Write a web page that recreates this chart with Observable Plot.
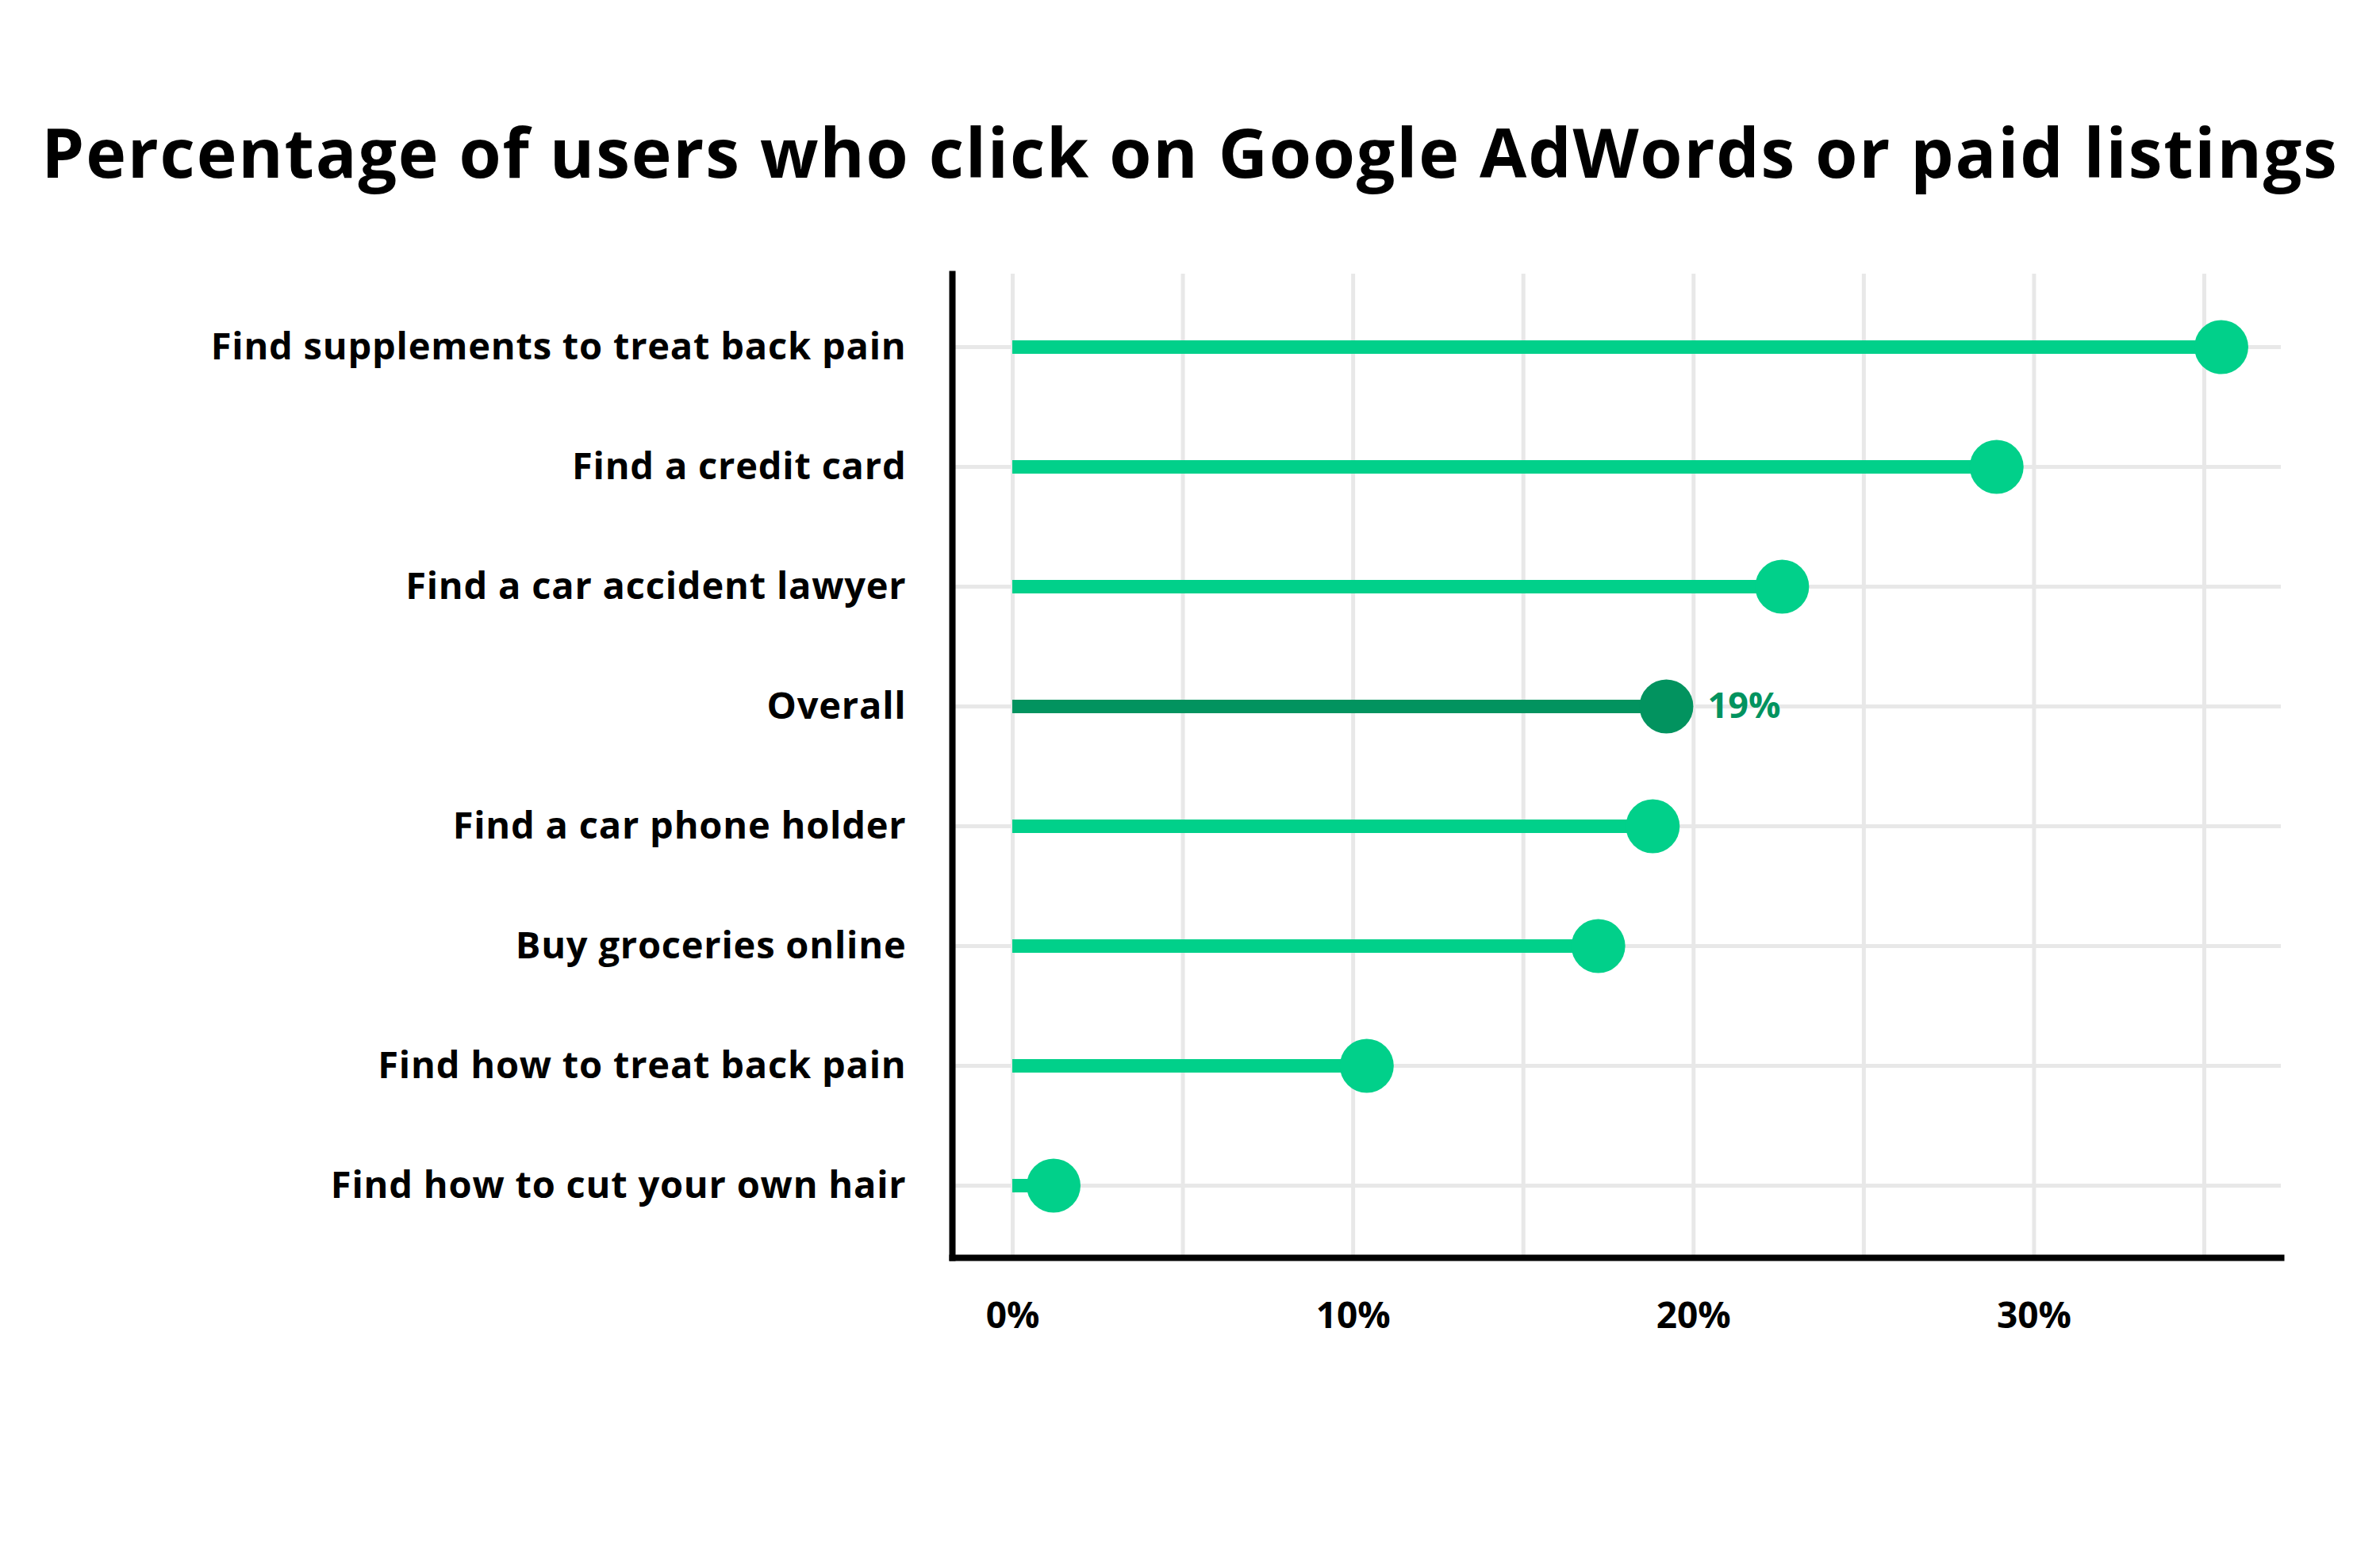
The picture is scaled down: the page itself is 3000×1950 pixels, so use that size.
<!DOCTYPE html>
<html>
<head>
<meta charset="utf-8">
<script src="https://cdn.jsdelivr.net/npm/d3@7"></script>
<script src="https://cdn.jsdelivr.net/npm/@observablehq/plot@0.6"></script>
<style>
  html, body { margin: 0; padding: 0; background: #ffffff; }
  body { width: 3000px; height: 1950px; overflow: hidden; font-family: "Open Sans", sans-serif; }
  #title {
    height: 300px; box-sizing: border-box; padding-top: 148px;
    font-size: 86px; line-height: 1; font-weight: 700; color: #000;
    letter-spacing: 1.8px;
    text-align: center; white-space: nowrap;
  }
  #chart svg { display: block; }
  #chart g[aria-label="y-axis tick label"] { letter-spacing: 0.8px; }
</style>
</head>
<body>
<div id="title">Percentage of users who click on Google AdWords or paid listings</div>
<div id="chart"></div>
<script>
const categories = [
  "Find supplements to treat back pain",
  "Find a credit card",
  "Find a car accident lawyer",
  "Overall",
  "Find a car phone holder",
  "Buy groceries online",
  "Find how to treat back pain",
  "Find how to cut your own hair"
];
const values = [35.5, 28.9, 22.6, 19.2, 18.8, 17.2, 10.4, 1.2];
const highlight = "Overall";
const highlightLabel = "19%";
const xTickValues = [0, 10, 20, 30];
const gridValues = [0, 5, 10, 15, 20, 25, 30, 35];

const green = "#01d08a";
const darkGreen = "#02935f";
const gridColor = "#e8e8e8";

const data = categories.map((c, i) => ({category: c, value: values[i]}));
const normal = data.filter(d => d.category !== highlight);
const hl = data.filter(d => d.category === highlight);

const chart = Plot.plot({
  width: 3000,
  height: 1650,
  marginLeft: 1200,
  marginRight: 125,
  marginTop: 45,
  marginBottom: 365,
  style: {fontFamily: "'Open Sans', sans-serif", color: "#000", background: "#fff"},
  x: {domain: [0, 35], insetLeft: 76, insetRight: 97},
  y: {type: "point", domain: categories, padding: 0.594},
  marks: [
    Plot.ruleX(gridValues, {stroke: gridColor, strokeWidth: 5}),
    Plot.ruleY(categories, {stroke: gridColor, strokeWidth: 5}),
    Plot.ruleY(normal, {y: "category", x1: 0, x2: "value", stroke: green, strokeWidth: 17}),
    Plot.ruleY(hl, {y: "category", x1: 0, x2: "value", stroke: darkGreen, strokeWidth: 17}),
    Plot.dot(normal, {x: "value", y: "category", r: 34, fill: green}),
    Plot.dot(hl, {x: "value", y: "category", r: 34, fill: darkGreen}),
    Plot.text(hl, {x: "value", y: "category", text: () => highlightLabel, dx: 52, textAnchor: "start",
      fill: darkGreen, fontSize: 45, fontWeight: 700}),
    Plot.axisX(xTickValues, {tickSize: 0, tickPadding: 56, tickFormat: d => d + "%",
      fontSize: 46, fontWeight: 700, fill: "#000", label: null}),
    Plot.axisY({tickSize: 0, tickPadding: 58, fontSize: 47, fontWeight: 700, fill: "#000", label: null}),
    Plot.frame({anchor: "left", stroke: "#000", strokeWidth: 8, strokeLinecap: "square"}),
    Plot.frame({anchor: "bottom", stroke: "#000", strokeWidth: 8})
  ]
});
document.getElementById("chart").appendChild(chart);
</script>
</body>
</html>
